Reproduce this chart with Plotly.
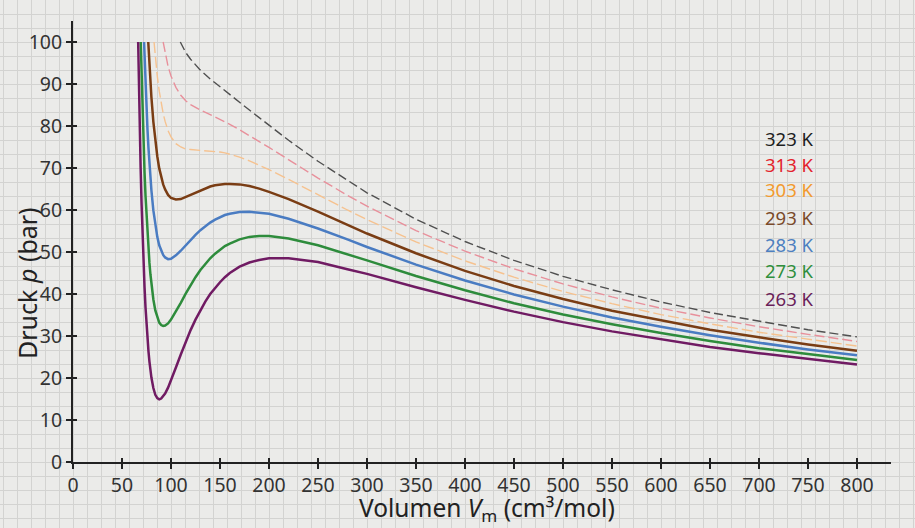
import plotly.graph_objects as go

# Molar volume (cm³/mol) and pressure (bar)
v_263 = [66.5, 67, 68, 69, 70, 71, 72, 73, 74, 75, 76, 77, 78, 79, 80, 82, 84, 86, 88, 90, 92, 94, 97, 100, 105, 110, 115, 120, 125, 130, 135, 140, 145, 150, 155, 160, 170, 180, 190, 200, 220, 250, 280, 300, 350, 400, 450, 500, 550, 600, 650, 700, 750, 800]
p_263 = [100, 92.3, 80.4, 70.1, 61.3, 53.7, 47.2, 41.6, 36.8, 32.7, 29.3, 26.4, 23.9, 21.8, 20.1, 17.6, 16.0, 15.2, 14.9, 15.1, 15.6, 16.3, 17.7, 19.4, 22.5, 25.6, 28.6, 31.4, 33.9, 36.2, 38.2, 40.0, 41.5, 42.8, 44.0, 45.0, 46.5, 47.5, 48.1, 48.5, 48.5, 47.6, 45.9, 44.8, 41.6, 38.6, 35.8, 33.3, 31.1, 29.2, 27.4, 25.9, 24.5, 23.2]

v_273 = [69.1, 70, 71, 72, 73, 74, 75, 76, 77, 78, 79, 80, 82, 84, 86, 88, 90, 92, 94, 97, 100, 105, 110, 115, 120, 125, 130, 135, 140, 145, 150, 155, 160, 170, 180, 190, 200, 220, 250, 280, 300, 350, 400, 450, 500, 550, 600, 650, 700, 750, 800]
p_273 = [100, 91.7, 83.1, 75.6, 69.0, 63.4, 58.5, 54.3, 50.6, 47.4, 44.7, 42.4, 38.7, 36.1, 34.4, 33.2, 32.6, 32.4, 32.5, 33.0, 33.9, 35.8, 37.9, 40.1, 42.1, 44.0, 45.7, 47.2, 48.5, 49.6, 50.6, 51.4, 52.0, 53.0, 53.6, 53.8, 53.8, 53.2, 51.6, 49.5, 48.0, 44.3, 40.9, 37.8, 35.1, 32.8, 30.7, 28.8, 27.1, 25.7, 24.3]

v_283 = [72.5, 73, 74, 75, 76, 77, 78, 79, 80, 82, 84, 86, 88, 90, 92, 94, 97, 100, 105, 110, 115, 120, 125, 130, 135, 140, 145, 150, 155, 160, 170, 180, 190, 200, 220, 250, 280, 300, 350, 400, 450, 500, 550, 600, 650, 700, 750, 800]
p_283 = [100, 96.5, 89.9, 84.2, 79.2, 74.8, 71.0, 67.6, 64.7, 59.9, 56.2, 53.6, 51.6, 50.2, 49.3, 48.7, 48.3, 48.4, 49.2, 50.3, 51.6, 52.9, 54.1, 55.2, 56.2, 57.0, 57.7, 58.3, 58.8, 59.1, 59.5, 59.6, 59.4, 59.1, 57.9, 55.6, 53.0, 51.2, 47.0, 43.2, 39.9, 37.0, 34.4, 32.2, 30.2, 28.4, 26.8, 25.4]

v_293 = [76.8, 78, 79, 80, 82, 84, 86, 88, 90, 92, 94, 97, 100, 105, 110, 115, 120, 125, 130, 135, 140, 145, 150, 155, 160, 170, 180, 190, 200, 220, 250, 280, 300, 350, 400, 450, 500, 550, 600, 650, 700, 750, 800]
p_293 = [100, 94.5, 90.5, 86.9, 81.0, 76.3, 72.8, 69.9, 67.8, 66.1, 64.9, 63.6, 62.9, 62.5, 62.6, 63.1, 63.6, 64.2, 64.7, 65.2, 65.6, 65.9, 66.1, 66.2, 66.2, 66.1, 65.7, 65.1, 64.3, 62.6, 59.6, 56.5, 54.4, 49.7, 45.5, 41.9, 38.8, 36.0, 33.7, 31.5, 29.7, 28.0, 26.5]

v_303 = [82.7, 84, 86, 88, 90, 92, 94, 97, 100, 105, 110, 115, 120, 125, 130, 135, 140, 145, 150, 155, 160, 170, 180, 190, 200, 220, 250, 280, 300, 350, 400, 450, 500, 550, 600, 650, 700, 750, 800]
p_303 = [100, 96.5, 91.9, 88.3, 85.3, 83.0, 81.1, 78.9, 77.4, 75.8, 75.0, 74.5, 74.4, 74.3, 74.3, 74.2, 74.1, 74.0, 73.8, 73.6, 73.3, 72.6, 71.7, 70.7, 69.6, 67.3, 63.6, 60.0, 57.7, 52.4, 47.9, 44.0, 40.6, 37.7, 35.1, 32.9, 30.9, 29.2, 27.6]

v_313 = [92.0, 94, 97, 100, 105, 110, 115, 120, 125, 130, 140, 150, 160, 170, 180, 190, 200, 220, 250, 280, 300, 350, 400, 450, 500, 550, 600, 650, 700, 750, 800]
p_313 = [100, 97.3, 94.2, 91.9, 89.2, 87.3, 86.0, 85.1, 84.4, 83.8, 82.7, 81.6, 80.4, 79.1, 77.8, 76.3, 74.9, 72.0, 67.6, 63.5, 60.9, 55.1, 50.2, 46.0, 42.4, 39.3, 36.6, 34.3, 32.2, 30.4, 28.7]

v_323 = [109.5, 115, 120, 125, 130, 140, 150, 160, 170, 180, 190, 200, 220, 250, 280, 300, 350, 400, 450, 500, 550, 600, 650, 700, 750, 800]
p_323 = [100, 97.5, 95.9, 94.5, 93.3, 91.2, 89.3, 87.5, 85.7, 83.8, 82.0, 80.2, 76.6, 71.6, 67.0, 64.1, 57.8, 52.5, 48.0, 44.2, 41.0, 38.1, 35.6, 33.5, 31.5, 29.8]

labels = ["323 K", "313 K", "303 K", "293 K", "283 K", "273 K", "263 K"]
label_y = [77.1, 70.9, 64.8, 58.3, 51.9, 45.5, 39.0]
x_ticks = list(range(0, 801, 50))
y_ticks = list(range(0, 101, 10))

series = [
    (v_323, p_323, "#505050", 1.4, "9px,4px"),
    (v_313, p_313, "#e8909b", 1.4, "10px,4px"),
    (v_303, p_303, "#f6c28f", 1.4, "11px,4px"),
    (v_293, p_293, "#7a3d14", 2.5, "solid"),
    (v_283, p_283, "#4a7cc2", 2.5, "solid"),
    (v_273, p_273, "#2e8c3c", 2.5, "solid"),
    (v_263, p_263, "#701b63", 2.5, "solid"),
]
label_colors = ["#1e1e1e", "#e3232c", "#f29a2e", "#7a4a2a", "#4d7fc0", "#2f8f3d", "#6a1f5a"]

W, H = 915, 528
fig = go.Figure()
# background graph paper grid (first subplot, drawn below everything)
fig.add_trace(go.Scatter(x=[0], y=[0], xaxis="x", yaxis="y", mode="markers",
                         marker=dict(opacity=0), showlegend=False, hoverinfo="skip"))

for v, p, col, w, dash in series:
    fig.add_trace(go.Scatter(x=v, y=p, mode="lines", showlegend=False, xaxis="x2", yaxis="y2",
                             line=dict(color=col, width=w, dash=dash, shape="linear")))

# dummy trace to activate the tick-overlay axes
fig.add_trace(go.Scatter(x=[0], y=[0], xaxis="x3", yaxis="y3", mode="markers",
                         marker=dict(opacity=0), showlegend=False, hoverinfo="skip"))

font_fam = "Noto Sans, Open Sans, sans-serif"
ann = []
for t, yv, c in zip(labels, label_y, label_colors):
    ann.append(dict(x=704, y=yv, xref="x2", yref="y2", text=t, showarrow=False,
                    xanchor="left", yanchor="middle", font=dict(size=18.5, color=c, family=font_fam)))
# axis arrows
ann.append(dict(x=840, y=0, xref="x2", yref="y2", ax=-12, ay=0, axref="pixel", ayref="pixel",
                text="", showarrow=True, arrowhead=2, arrowsize=1.2, arrowwidth=2, arrowcolor="#222"))
ann.append(dict(x=0, y=106.4, xref="x2", yref="y2", ax=0, ay=12, text="", showarrow=True,
                arrowhead=2, arrowsize=1.2, arrowwidth=2, arrowcolor="#222"))
# axis titles
ann.append(dict(x=487 / W, y=1 - 509 / H, xref="paper", yref="paper", showarrow=False,
                xanchor="center", yanchor="middle",
                text="Volumen <i>V</i><sub>m</sub> (cm³/mol)", font=dict(size=24.5, color="#222", family=font_fam)))
ann.append(dict(x=27 / W, y=1 - 283 / H, xref="paper", yref="paper", showarrow=False, textangle=-90,
                xanchor="center", yanchor="middle",
                text="Druck <i>p</i> (bar)", font=dict(size=25, color="#222", family=font_fam)))

x_dom = [73 / W, (73 + 835 * 0.98) / W]
y_dom = [1 - 462 / H, 1 - (462 - 105 * 4.2) / H]

tickfont = dict(size=19.5, color="#333", family=font_fam)
fig.update_layout(
    template="none",
    width=W, height=H,
    margin=dict(l=0, r=0, t=0, b=0, pad=0, autoexpand=False),
    paper_bgcolor="#ebebe9", plot_bgcolor="rgba(0,0,0,0)",
    showlegend=False,
    annotations=ann,
    xaxis=dict(domain=[0, 1], range=[0, W], dtick=14, tick0=3, showgrid=True, gridcolor="#d3d3d1",
               gridwidth=1, showticklabels=False, ticks="", zeroline=False, showline=False,
               anchor="y", automargin=False, fixedrange=True),
    yaxis=dict(domain=[0, 1], range=[0, H], dtick=14, tick0=10, showgrid=True, gridcolor="#d3d3d1",
               gridwidth=1, showticklabels=False, ticks="", zeroline=False, showline=False,
               anchor="x", automargin=False, fixedrange=True),
    xaxis2=dict(domain=x_dom, range=[0, 835], tickvals=x_ticks, ticks="outside", ticklen=5, tickwidth=1.5,
                tickcolor="#222", showline=True, linecolor="#222", linewidth=2, showgrid=False, zeroline=False,
                tickfont=tickfont, anchor="y2", automargin=False),
    yaxis2=dict(domain=y_dom, range=[0, 105], tickvals=y_ticks, ticks="outside", ticklen=5, tickwidth=1.5,
                tickcolor="#222", showline=True, linecolor="#222", linewidth=2, showgrid=False, zeroline=False,
                tickfont=tickfont, anchor="x2", automargin=False),
    xaxis3=dict(overlaying="x2", matches="x2", anchor="y2", side="bottom", tickvals=x_ticks, ticks="inside",
                ticklen=4, tickwidth=1.5, tickcolor="#222", showticklabels=False, showgrid=False,
                zeroline=False, showline=False, automargin=False),
    yaxis3=dict(overlaying="y2", matches="y2", anchor="x2", side="left", tickvals=y_ticks, ticks="inside",
                ticklen=4, tickwidth=1.5, tickcolor="#222", showticklabels=False, showgrid=False,
                zeroline=False, showline=False, automargin=False),
)

fig.write_html("out.html", config={"displayModeBar": False},
               post_script="document.body.style.margin='0px';document.body.style.overflow='hidden';")
